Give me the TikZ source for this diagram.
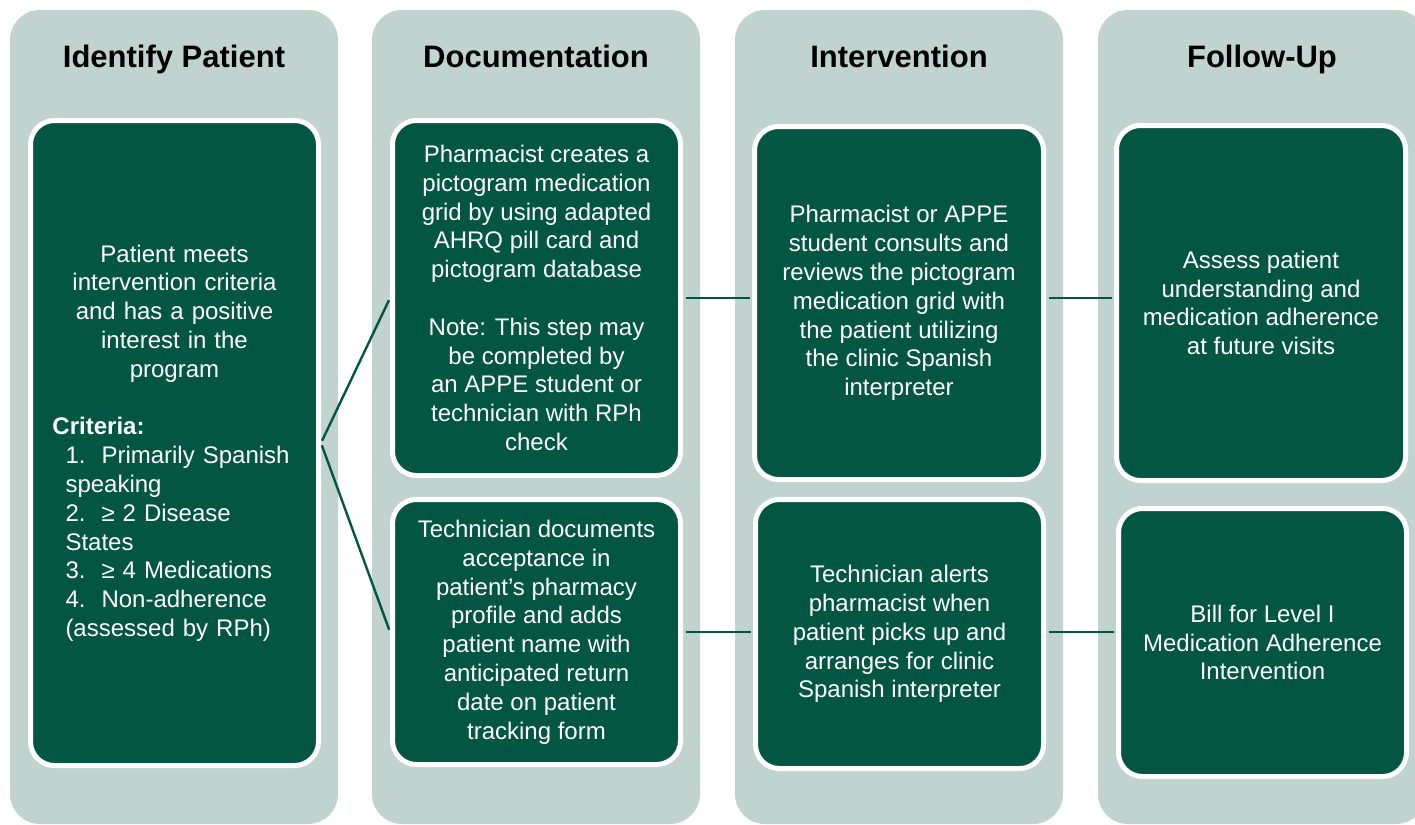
\documentclass[tikz,border=0pt]{standalone}
\usepackage{fontspec}
\setmainfont{Liberation Sans}
\definecolor{lanebg}{RGB}{192,211,206}
\definecolor{stepgreen}{RGB}{3,86,66}
\tikzset{
    lane/.style={fill=lanebg, rounded corners=15pt},
    lanetitle/.style={font=\fontsize{15.5}{18}\selectfont\bfseries, text=black, anchor=base},
    stepbox/.style={draw=white, line width=2.5pt, fill=stepgreen, rounded corners=12pt,
        text=white, font=\fontsize{12}{14.4}\selectfont, align=center, inner sep=0pt},
    link/.style={draw=stepgreen, line width=1.2pt, shorten <=1.25pt, shorten >=1.25pt}
}
\begin{document}
\begin{tikzpicture}[x=0.5pt, y=-0.5pt]
    \useasboundingbox (0,0) rectangle (1415,825);
    \clip (0,0) rectangle (1415,825);
    \foreach \x/\t in {10/Identify Patient, 372/Documentation, 735/Intervention, 1098/Follow-Up}{
        \fill[lane] (\x,10) rectangle ++(328,814);
        \node[lanetitle] (title\x) at (\x+164,67) {\t};
    }

    \node[stepbox, minimum width=144pt, minimum height=322.5pt, text width=122pt] (identify) at (174.5,443) {
        Patient meets\\ intervention criteria\\ and has a positive\\ interest in the\\ program\par
        \vskip14.4pt
        \leftskip=0pt \rightskip=0pt plus 1fil \textbf{Criteria:}\par
        \leftskip=6.5pt 1.\ \ Primarily Spanish\par speaking\par 2.\ \ ≥ 2 Disease\par States\par
        3.\ \ ≥ 4 Medications\par 4.\ \ Non-adherence\par (assessed by RPh)\par};

    \node[stepbox, minimum width=144pt, minimum height=177.5pt] (grid) at (536.5,298) {
        Pharmacist creates a\\ pictogram medication\\ grid by using adapted\\ AHRQ pill card and\\
        pictogram database\\[14.4pt] Note: This step may\\ be completed by\\ an APPE student or\\
        technician with RPh\\ check};
    \node[stepbox, minimum width=144pt, minimum height=132.5pt] (record) at (536.5,632) {
        Technician documents\\ acceptance in\\ patient's pharmacy\\ profile and adds\\
        patient name with\\ anticipated return\\ date on patient\\ tracking form};

    \node[stepbox, minimum width=144.5pt, minimum height=176.5pt] (consult) at (899,303) {
        Pharmacist or APPE\\ student consults and\\ reviews the pictogram\\ medication grid with\\
        the patient utilizing\\ the clinic Spanish\\ interpreter};
    \node[stepbox, minimum width=144pt, minimum height=134.5pt] (alert) at (899.5,634) {
        Technician alerts\\ pharmacist when\\ patient picks up and\\ arranges for clinic\\
        Spanish interpreter};

    \node[stepbox, minimum width=144.5pt, minimum height=177.5pt] (assess) at (1261,303) {
        Assess patient\\ understanding and\\ medication adherence\\ at future visits};
    \node[stepbox, minimum width=144pt, minimum height=134pt] (bill) at (1262.5,642.5) {
        Bill for Level I\\ Medication Adherence\\ Intervention};

    \draw[link] (identify.east) -- (grid.west);
    \draw[link] (identify.east) -- (record.west);
    \draw[link] (grid.east) -- (grid.east -| consult.west);
    \draw[link] (consult.east |- grid.east) -- (grid.east -| assess.west);
    \draw[link] (record.east) -- (record.east -| alert.west);
    \draw[link] (alert.east |- record.east) -- (record.east -| bill.west);
\end{tikzpicture}
\end{document}
